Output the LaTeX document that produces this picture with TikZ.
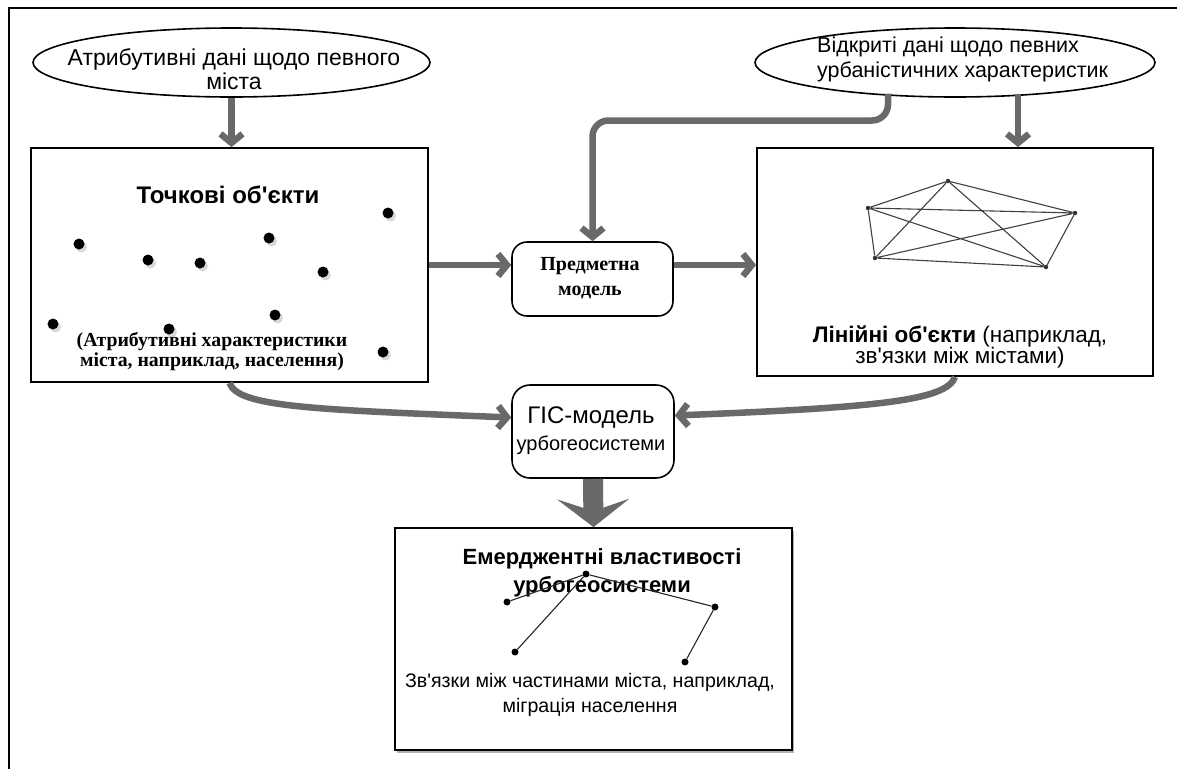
\documentclass[tikz,border=0pt]{standalone}
\usepackage{fontspec}
\setmainfont{Liberation Sans}[Ligatures=TeXOff]
\newfontfamily\serfont{Liberation Serif}[Ligatures=TeXOff]
\usetikzlibrary{arrows.meta,shapes.geometric,calc,shadows}
\definecolor{agray}{RGB}{105,105,105}
\begin{document}
\begin{tikzpicture}[x=1pt,y=-1pt,
  ell/.style={ellipse, draw, line width=1.6pt, inner sep=0pt},
  sqbox/.style={draw, line width=1.8pt, inner sep=0pt, fill=white},
  rbox/.style={draw, line width=1.6pt, rounded corners=15pt, inner sep=0pt, fill=white},
  conn/.style={draw=agray, line width=6.5pt, -{Straight Barb[length=9pt,width=22pt]}},
  bigconn/.style={draw=agray, line width=20pt, -{Stealth[length=28pt,width=72pt,inset=12pt]}},
  pdot/.style={circle, fill=black, inner sep=0pt, minimum size=11pt, drop shadow={shadow xshift=2.5pt, shadow yshift=-3pt, opacity=.3}},
  gdot/.style={circle, fill=black!80, inner sep=0pt, minimum size=4.5pt},
  edot/.style={circle, fill=black, inner sep=0pt, minimum size=7pt},
  gline/.style={draw=black!75, line width=1.1pt},
  txt/.style={inner sep=0pt, align=center}]
\useasboundingbox (0,0) rectangle (1177,769);
\fill[white] (0,0) rectangle (1177,769);
% outer frame
\coordinate (fa) at (9,769);
\coordinate (fb) at (9,8);
\coordinate (fc) at (1177,8);
\draw[line width=1.8pt] (fa) -- (fb) -- (fc);

% ellipses
\node[ell, minimum width=397pt, minimum height=69pt] (ellL) at (231.5,62.5) {};
\node[txt, font=\fontsize{23}{24}\selectfont] (tL) at (234,69) {Атрибутивні дані щодо певного\\міста};
\node[ell, minimum width=400pt, minimum height=69pt] (ellR) at (955,62.5) {};
\node[txt, anchor=west, align=left, font=\fontsize{21.5}{25}\selectfont] (tR) at (817,59) {Відкриті дані щодо певних\\урбаністичних характеристик};

% boxes
\node[sqbox, minimum width=397pt, minimum height=234pt] (boxL) at (229.5,265) {};
\node[sqbox, minimum width=396pt, minimum height=228pt] (boxR) at (955,262) {};
\node[rbox, minimum width=161pt, minimum height=74pt] (pred) at (592.5,279) {};
\node[rbox, rounded corners=18pt, minimum width=162pt, minimum height=93pt] (gis) at (593,431.5) {};
\node[sqbox, minimum width=397pt, minimum height=222pt, drop shadow={shadow xshift=2pt, shadow yshift=-3pt, opacity=.6}] (emerg) at (593.5,639) {};

% box texts
\node[txt, font=\fontsize{24}{26}\selectfont\bfseries] (tPoint) at (228,195) {Точкові об'єкти};
\node[txt, font=\serfont\bfseries\fontsize{19.8}{20}\selectfont] (tAttr) at (212,352) {(Атрибутивні характеристики\\міста, наприклад, населення)};
\node[txt, font=\fontsize{22.5}{21}\selectfont] (tLin) at (960,347) {\textbf{Лінійні об'єкти} (наприклад,\\зв'язки між містами)};
\node[txt, font=\serfont\bfseries\fontsize{20}{25}\selectfont] (tPred) at (590,278) {Предметна\\модель};
\node[txt, font=\fontsize{24}{27}\selectfont] (tGis) at (591,431) {ГІС-модель\\\fontsize{20}{27}\selectfont урбогеосистеми};
\node[txt, font=\fontsize{22}{28}\selectfont\bfseries] (tEm) at (602,573) {Емерджентні властивості\\урбогеосистеми};
\node[txt, font=\fontsize{19.6}{25}\selectfont] (tEm2) at (590,695) {Зв'язки між частинами міста, наприклад,\\міграція населення};

% point objects
\node[pdot] (p1) at (79,244) {};
\node[pdot] (p2) at (148,260) {};
\node[pdot] (p3) at (200,263) {};
\node[pdot] (p4) at (269,238) {};
\node[pdot] (p5) at (323,272) {};
\node[pdot] (p6) at (388,213) {};
\node[pdot] (p7) at (53,324) {};
\node[pdot] (p8) at (169,329) {};
\node[pdot] (p9) at (275,315) {};
\node[pdot] (p10) at (383,352) {};

% line objects graph
\node[gdot] (gT) at (948,181) {};
\node[gdot] (gL) at (868,208) {};
\node[gdot] (gR) at (1075,213) {};
\node[gdot] (gBL) at (875,258) {};
\node[gdot] (gBR) at (1046,267) {};
\draw[gline] (gL) -- (gT) -- (gR) -- (gL) -- (gBL) -- (gBR) -- (gR) -- (gBL) -- (gT) -- (gBR) -- (gL);

% emergent graph
\node[edot] (e1) at (507,602) {};
\node[edot] (e2) at (586,574) {};
\node[edot] (e3) at (715,607) {};
\node[edot] (e4) at (515,652) {};
\node[edot] (e5) at (685,662) {};
\draw[gline, draw=black!85] (e1) -- (e2) -- (e3) -- (e5);
\draw[gline, draw=black!85] (e2) -- (e4);

% connectors
\coordinate (rA) at ($(ellR.center)+(63,31)$);
\coordinate (rB) at ($(ellR.center)+(-67,31)$);
\coordinate (rC) at ($(ellR.center)+(-67,58)$);
\draw[conn] (ellL.south) -- (ellL.south |- boxL.north);
\draw[conn] (rA) -- (rA |- boxR.north);
\draw[conn, rounded corners=16pt] (rB) -- (rC) -- (rC -| pred.north) -- (pred.north);
\draw[conn] (boxL.east) -- (boxL.east -| pred.west);
\draw[conn] (boxL.east -| pred.east) -- (boxL.east -| boxR.west);
\draw[conn] (boxL.south) .. controls +(8,24) and +(-200,-8) .. ($(gis.west)+(0,-14)$);
\draw[conn] (boxR.south) .. controls +(-8,24) and +(200,-8) .. ($(gis.east)+(0,-16)$);
\draw[bigconn] (gis.south) -- (emerg.north);
\end{tikzpicture}
\end{document}
